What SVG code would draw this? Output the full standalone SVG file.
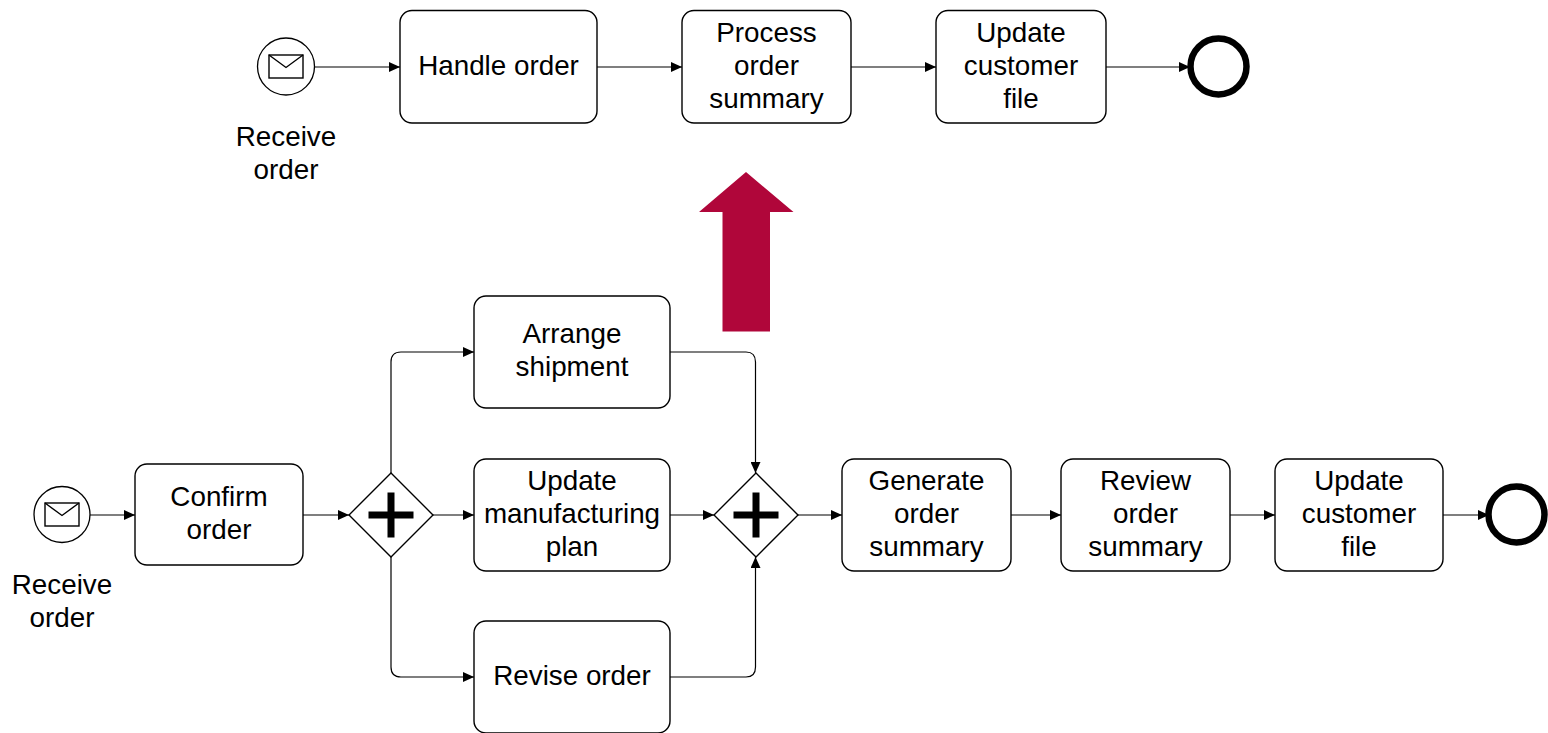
<svg xmlns="http://www.w3.org/2000/svg" width="1548" height="733" viewBox="0 0 1548 733">
<style>
.t{fill:#fff;stroke:#000;stroke-width:1.4}
.l{font-family:"Liberation Sans",Arial,sans-serif;font-size:27.8px;fill:#000;text-anchor:middle}
.c{fill:none;stroke:#000;stroke-width:1.2;marker-end:url(#a)}
.e{fill:#fff;stroke:#000;stroke-width:1.3}
.m{fill:#fff;stroke:#000;stroke-width:1.4}
.x{fill:#fff;stroke:#000;stroke-width:6.500}
.g{fill:#fff;stroke:#000;stroke-width:1.4}
.p{fill:#000}
</style>
<defs>
<marker id="a" markerUnits="userSpaceOnUse" markerWidth="12" markerHeight="10" refX="11" refY="5" orient="auto"><path d="M0 0L11 5L0 10Z" fill="#000"/></marker>
<g id="env"><rect class="m" x="-17" y="-11.500" width="34" height="23"/><path d="M-17-11.500L0 1L17-11.500" fill="none" stroke="#000" stroke-width="1.400"/></g>
<g id="plus"><path class="p" d="M-3.500-22.500h7v19h19v7h-19v19h-7v-19h-19v-7h19z"/></g>
</defs>
<g id="connectors">
<path class="c" d="M315 67H400"/>
<path class="c" d="M597 67H682"/>
<path class="c" d="M851 67H936"/>
<path class="c" d="M1106 67H1190"/>
<path class="c" d="M90 515H135"/>
<path class="c" d="M303 515H349"/>
<path class="c" d="M433 515H474"/>
<path class="c" d="M391 473V362Q391 352 401 352H474"/>
<path class="c" d="M391 557V667Q391 677 401 677H474"/>
<path class="c" d="M670 515H714"/>
<path class="c" d="M670 352H746Q755.500 352 755.500 362V473"/>
<path class="c" d="M670 677H746Q755.500 677 755.500 667V557"/>
<path class="c" d="M798 515H842"/>
<path class="c" d="M1011 515H1061"/>
<path class="c" d="M1230 515H1275"/>
<path class="c" d="M1443 515H1489"/>
</g>
<g id="shift-arrow"><path d="M746 172L793.500 212H770V331.500H722.500V212H699Z" fill="#B0063A"/></g>
<g id="top-start"><circle class="e" cx="286" cy="66.500" r="28.500"/><use href="#env" x="286" y="66.500"/><text class="l"><tspan x="286" y="146">Receive</tspan><tspan x="286" y="179">order</tspan></text></g>
<g id="top-handle"><rect class="t" x="400" y="10.500" width="197" height="112.500" rx="12"/><text class="l" x="498.500" y="75">Handle order</text></g>
<g id="top-process"><rect class="t" x="682" y="10.500" width="169" height="112.500" rx="12"/><text class="l"><tspan x="766.500" y="42">Process</tspan><tspan x="766.500" y="75">order</tspan><tspan x="766.500" y="108">summary</tspan></text></g>
<g id="top-update"><rect class="t" x="936" y="10.500" width="170" height="112.500" rx="12"/><text class="l"><tspan x="1021" y="42">Update</tspan><tspan x="1021" y="75">customer</tspan><tspan x="1021" y="108">file</tspan></text></g>
<g id="top-end"><circle class="x" cx="1218.500" cy="66.500" r="28"/></g>
<g id="start"><circle class="e" cx="62" cy="514.500" r="28"/><use href="#env" x="62" y="514.500"/><text class="l"><tspan x="62" y="594">Receive</tspan><tspan x="62" y="627">order</tspan></text></g>
<g id="confirm"><rect class="t" x="135" y="464" width="168" height="101" rx="12"/><text class="l"><tspan x="219" y="506">Confirm</tspan><tspan x="219" y="539">order</tspan></text></g>
<g id="split"><path class="g" d="M391 473L433 515L391 557L349 515Z"/><use href="#plus" x="391" y="515"/></g>
<g id="arrange"><rect class="t" x="474" y="296" width="196" height="112" rx="12"/><text class="l"><tspan x="572" y="343">Arrange</tspan><tspan x="572" y="376">shipment</tspan></text></g>
<g id="update-plan"><rect class="t" x="474" y="459" width="196" height="112" rx="12"/><text class="l"><tspan x="572" y="490">Update</tspan><tspan x="572" y="523">manufacturing</tspan><tspan x="572" y="556">plan</tspan></text></g>
<g id="revise"><rect class="t" x="474" y="621" width="196" height="112" rx="12"/><text class="l" x="572" y="685">Revise order</text></g>
<g id="join"><path class="g" d="M756 473L798 515L756 557L714 515Z"/><use href="#plus" x="756" y="515"/></g>
<g id="generate"><rect class="t" x="842" y="459" width="169" height="112" rx="12"/><text class="l"><tspan x="926.500" y="490">Generate</tspan><tspan x="926.500" y="523">order</tspan><tspan x="926.500" y="556">summary</tspan></text></g>
<g id="review"><rect class="t" x="1061" y="459" width="169" height="112" rx="12"/><text class="l"><tspan x="1145.500" y="490">Review</tspan><tspan x="1145.500" y="523">order</tspan><tspan x="1145.500" y="556">summary</tspan></text></g>
<g id="update-file"><rect class="t" x="1275" y="459" width="168" height="112" rx="12"/><text class="l"><tspan x="1359" y="490">Update</tspan><tspan x="1359" y="523">customer</tspan><tspan x="1359" y="556">file</tspan></text></g>
<g id="end"><circle class="x" cx="1516.500" cy="514.500" r="28"/></g>
</svg>
